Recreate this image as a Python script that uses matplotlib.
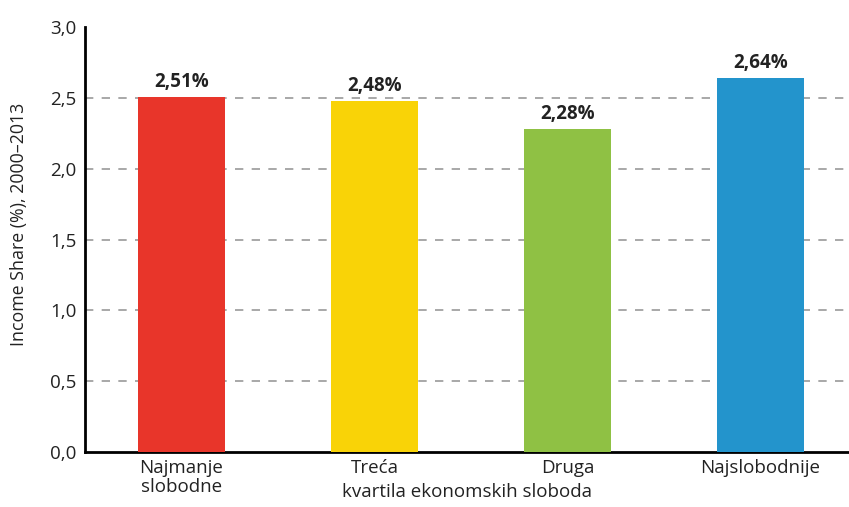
import numpy as np
import matplotlib.pyplot as plt

kategorije = ['Najmanje\nslobodne', 'Treća', 'Druga', 'Najslobodnije']
vrijednosti = [2.51, 2.48, 2.28, 2.64]
boje = ['#E8352A', '#F9D307', '#8FC144', '#2394CC']
yticks = [0.0, 0.5, 1.0, 1.5, 2.0, 2.5, 3.0]

plt.rcParams['font.family'] = ['Open Sans', 'DejaVu Sans']

fig = plt.figure(figsize=(8.49, 5.07), dpi=100)
ax = fig.add_axes([0.1001, 0.1085, 0.8999, 0.838])

x = np.arange(len(kategorije))
bars = ax.bar(x, vrijednosti, width=0.45, color=boje, zorder=3)

for b, v in zip(bars, vrijednosti):
    ax.text(b.get_x() + b.get_width() / 2, v + 0.035, f'{v:.2f}%'.replace('.', ','),
            ha='center', va='bottom', fontsize=13.5, fontweight='bold', color='#222222')

ax.set_xlim(-0.5, 3.46)
ax.set_ylim(0, 3.0)
ax.set_yticks(yticks)
ax.set_yticklabels([f'{t:.1f}'.replace('.', ',') for t in yticks], fontsize=13.5, color='#222222')
ax.set_xticks(x)
ax.set_xticklabels(kategorije, fontsize=13.5, color='#222222', linespacing=1.05)
ax.tick_params(length=0, pad=5)
ax.tick_params(axis='y', pad=6)

for t in yticks[1:-1]:
    ax.axhline(t, color='#999999', linestyle=(0, (5, 5)), linewidth=1.2, zorder=1)

for s in ['top', 'right']:
    ax.spines[s].set_visible(False)
ax.spines['left'].set_linewidth(2)
ax.spines['bottom'].set_linewidth(2)

ax.set_ylabel('Income Share (%), 2000–2013', fontsize=12.8, color='#222222')
ax.yaxis.set_label_coords(-0.074, 0.536)
ax.set_xlabel('kvartila ekonomskih sloboda', fontsize=13.5, color='#222222')
ax.xaxis.set_label_coords(0.5, -0.072)

fig.savefig('out.png', dpi=100)
